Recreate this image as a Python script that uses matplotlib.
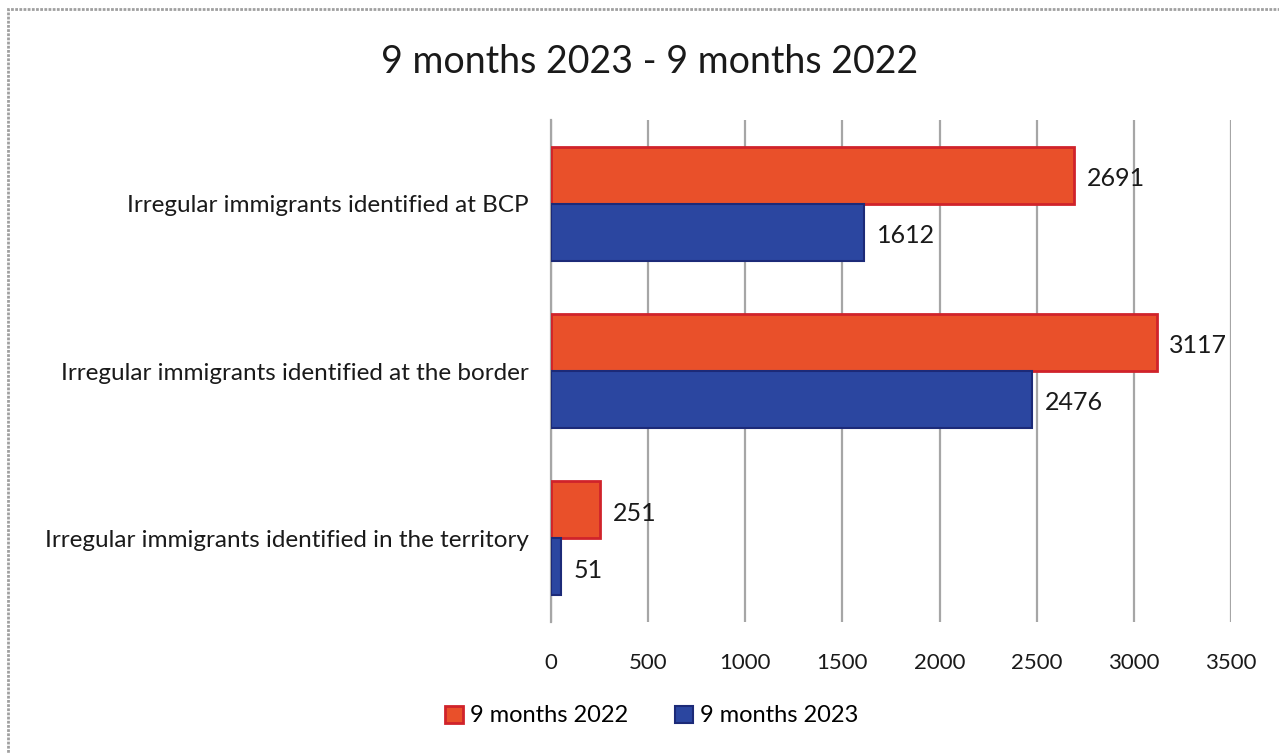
import numpy as np
import matplotlib.pyplot as plt
from matplotlib.patches import Rectangle

plt.rcParams['font.family'] = ['Lato', 'DejaVu Sans']

categories = ["Irregular immigrants identified at BCP",
              "Irregular immigrants identified at the border",
              "Irregular immigrants identified in the territory"]
vals_2022 = [2691, 3117, 251]
vals_2023 = [1612, 2476, 51]
series_names = ["9 months 2022", "9 months 2023"]
xticks = [0, 500, 1000, 1500, 2000, 2500, 3000, 3500]

red_fill, red_edge = "#e9502a", "#d0232a"
blue_fill, blue_edge = "#2b46a0", "#1c2a78"

W, H = 1279, 753
fig = plt.figure(figsize=(W / 100, H / 100), dpi=100)
# outer frame (right and bottom edges fall outside the image)
fig.patches.append(Rectangle((8 / W, -0.05), 1.2, 1.05 - 9 / H,
                             transform=fig.transFigure, fill=False,
                             edgecolor="#a0a0a0", linewidth=2, linestyle=(0, (1, 0.5))))

ax = fig.add_axes([551 / W, 1 - 622 / H, 680 / W, 502 / H])

y = np.arange(len(categories))
h = 0.34
ax.barh(y - h/2, vals_2022, height=h, color=red_fill, edgecolor=red_edge, linewidth=2,
        label=series_names[0], zorder=3)
ax.barh(y + h/2, vals_2023, height=h, color=blue_fill, edgecolor=blue_edge, linewidth=1.5,
        label=series_names[1], zorder=3)

for yi, v in zip(y - h/2, vals_2022):
    ax.text(v + 65, yi + 0.02, str(v), va="center", ha="left", fontsize=18, color="#1a1a1a", zorder=4)
for yi, v in zip(y + h/2, vals_2023):
    ax.text(v + 65, yi + 0.02, str(v), va="center", ha="left", fontsize=18, color="#1a1a1a", zorder=4)

ax.set_xlim(0, 3500)
ax.set_ylim(len(categories) - 0.5, -0.5)
ax.set_xticks(xticks)
ax.set_yticks(y)
ax.set_yticklabels(categories)
ax.tick_params(axis="both", length=0, colors="#1a1a1a")
ax.tick_params(axis="x", pad=22, labelsize=16)
ax.tick_params(axis="y", pad=16, labelsize=17.5)
ax.grid(axis="x", color="#a6a6a6", linewidth=1.6, zorder=0)
for s in ["top", "right", "bottom"]:
    ax.spines[s].set_visible(False)
ax.spines["left"].set_color("#a6a6a6")
ax.spines["left"].set_linewidth(1.6)

fig.text(650 / W, 1 - 62 / H, "9 months 2023 - 9 months 2022", ha="center", va="center",
         fontsize=27, color="#1a1a1a")

handles, labels = ax.get_legend_handles_labels()
fig.legend(handles, labels, loc="center", bbox_to_anchor=(652 / W, 1 - 716 / H), ncol=2,
           frameon=False, fontsize=17, handlelength=0.75, handleheight=0.75,
           handletextpad=0.3, columnspacing=2.0)

fig.savefig("out.png", dpi=100)
